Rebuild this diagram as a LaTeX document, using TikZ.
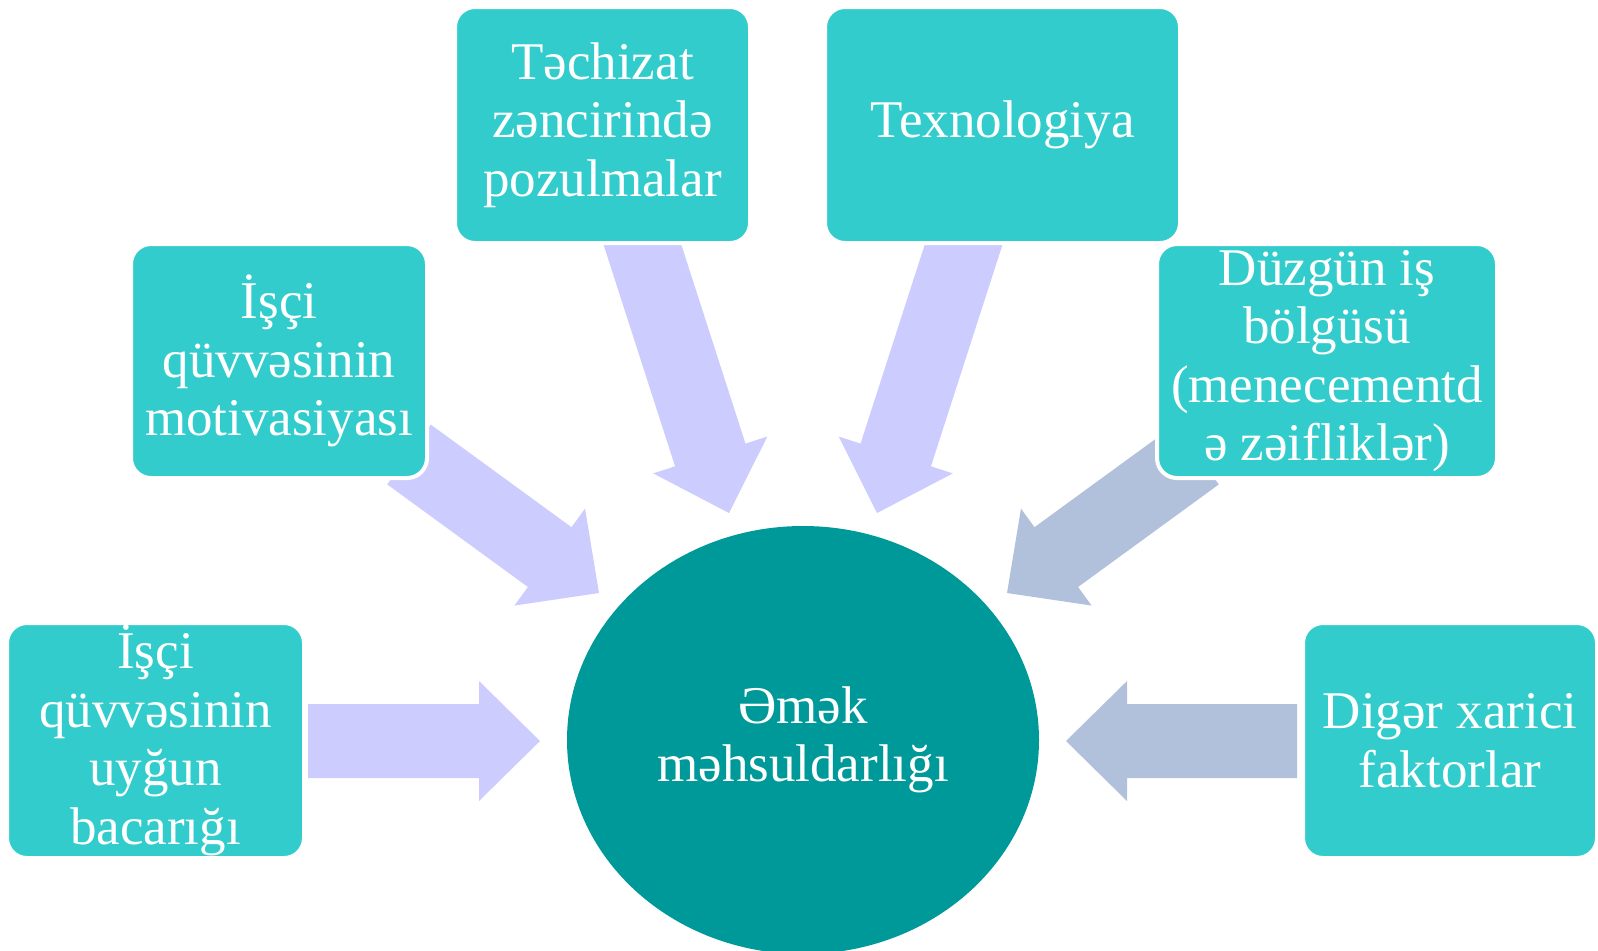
\documentclass[tikz,border=0pt]{standalone}
\usepackage{fontspec}
\setmainfont{Liberation Serif}
\usetikzlibrary{shapes.geometric,calc}

\definecolor{boxteal}{RGB}{51,204,204}
\definecolor{hubteal}{RGB}{0,153,153}
\definecolor{lilac}{RGB}{204,204,255}
\definecolor{steel}{RGB}{178,193,219}

\tikzset{
  factor/.style={rectangle, rounded corners=10pt, fill=boxteal, draw=white,
    line width=2pt, text=white, align=center, inner sep=0pt,
    font=\fontsize{26.5}{29.3}\selectfont},
  hub/.style={ellipse, fill=hubteal, text=white, align=center, inner sep=0pt,
    font=\fontsize{26.5}{29.3}\selectfont}
}

% fat arrow: colour, tail, tip
\newcommand{\blockarrow}[3]{%
  \coordinate (hb) at ($(#3)!30.5pt!(#2)$);
  \fill[#1] ($(#2)!18.5pt!90:(#3)$) -- ($(hb)!18.5pt!90:(#3)$) -- ($(hb)!30pt!90:(#3)$)
    -- (#3) -- ($(hb)!30pt!-90:(#3)$) -- ($(hb)!18.5pt!-90:(#3)$)
    -- ($(#2)!18.5pt!-90:(#3)$) -- cycle;
}

\begin{document}
\begin{tikzpicture}[x=0.5pt, y=-0.5pt]
  \useasboundingbox (0,0) rectangle (1598,950);

  \coordinate (Sa) at (308,741);    \coordinate (Sb) at (540,741);
  \coordinate (Ma) at (409,454.5);  \coordinate (Mb) at (599,593);
  \coordinate (Ca) at (628,200);    \coordinate (Cb) at (729,513);
  \coordinate (Ta) at (978,200);    \coordinate (Tb) at (877,513);
  \coordinate (Da) at (1197,454.5); \coordinate (Db) at (1007,593);
  \coordinate (Oa) at (1297,741);   \coordinate (Ob) at (1066,741);

  \blockarrow{lilac}{Sa}{Sb}
  \blockarrow{lilac}{Ma}{Mb}
  \blockarrow{lilac}{Ca}{Cb}
  \blockarrow{lilac}{Ta}{Tb}
  \blockarrow{steel}{Da}{Db}
  \blockarrow{steel}{Oa}{Ob}

  \node[hub, minimum width=236pt, minimum height=214pt] (P) at (803,740) {Əmək\\məhsuldarlığı};

  \node[factor, minimum width=148.5pt, minimum height=117.5pt] (S) at (155.5,740.5) {İşçi\\qüvvəsinin\\uyğun\\bacarığı};
  \node[factor, minimum width=148pt, minimum height=117pt] (M) at (279,361) {İşçi\\qüvvəsinin\\motivasiyası};
  \node[factor, minimum width=147.5pt, minimum height=118pt] (C) at (602.5,125) {Təchizat\\zəncirində\\pozulmalar};
  \node[factor, minimum width=177.5pt, minimum height=118pt] (T) at (1002.5,125) {Texnologiya};
  \node[factor, minimum width=170pt, minimum height=117pt] (D) at (1327,361) {Düzgün iş\\bölgüsü\\(menecementd\\ə zəifliklər)};
  \node[factor, minimum width=147pt, minimum height=117.5pt] (O) at (1450,740.5) {Digər xarici\\faktorlar};
\end{tikzpicture}
\end{document}
